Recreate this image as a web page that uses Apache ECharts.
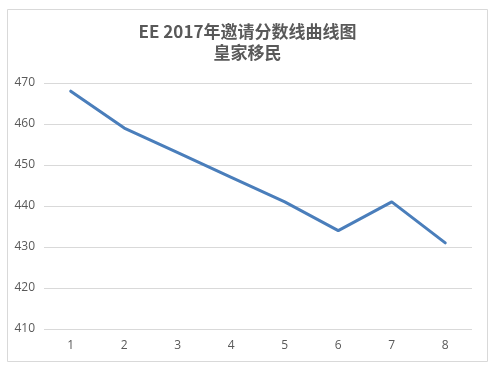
<!DOCTYPE html>
<html>
<head>
<meta charset="utf-8">
<script src="https://cdn.jsdelivr.net/npm/echarts@6/dist/echarts.min.js"></script>
<style>
html,body{margin:0;padding:0;background:#fff;}
#c{width:495px;height:367px;}
</style>
</head>
<body>
<div id="c"></div>
<script>
var categories = ['1','2','3','4','5','6','7','8'];
var scores = [468, 459, 453, 447, 441, 434, 441, 431];
var titleText = 'EE 2017年邀请分数线曲线图\n皇家移民';

var chart = echarts.init(document.getElementById('c'), null, {renderer:'canvas'});
chart.setOption({
  animation: false,
  backgroundColor: '#ffffff',
  graphic: [{
    type: 'rect',
    shape: {x: 7.5, y: 9.5, width: 480, height: 352},
    style: {fill: 'none', stroke: '#d9d9d9', lineWidth: 1},
    silent: true
  }],
  title: {
    text: titleText,
    left: 'center',
    top: 16,
    textStyle: {
      fontFamily: '"Noto Sans CJK SC", "Open Sans", sans-serif',
      fontSize: 17,
      fontWeight: 'bold',
      color: '#595959',
      lineHeight: 21
    }
  },
  grid: {left: 44, right: 23, top: 83, bottom: 38, containLabel: false},
  xAxis: {
    type: 'category',
    data: categories,
    boundaryGap: true,
    axisLine: {show: false},
    axisTick: {show: false},
    axisLabel: {color: '#595959', fontSize: 12, margin: 11, fontFamily: '"Open Sans", sans-serif'}
  },
  yAxis: {
    type: 'value',
    min: 410,
    max: 470,
    interval: 10,
    axisLine: {show: false},
    axisTick: {show: false},
    axisLabel: {color: '#595959', fontSize: 12, margin: 9, fontFamily: '"Open Sans", sans-serif'},
    splitLine: {lineStyle: {color: '#d9d9d9', width: 1}}
  },
  series: [{
    type: 'line',
    data: scores,
    symbol: 'none',
    lineStyle: {color: '#4a7ebb', width: 3, cap: 'round', join: 'round'},
    itemStyle: {color: '#4a7ebb'}
  }]
});
</script>
</body>
</html>
